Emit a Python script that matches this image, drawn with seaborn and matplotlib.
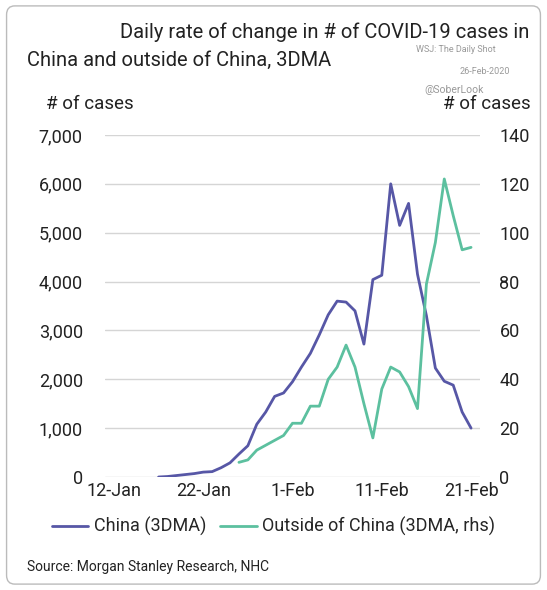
import numpy as np, pandas as pd
import matplotlib
matplotlib.use("Agg")
import matplotlib.pyplot as plt
import matplotlib.dates as mdates
import seaborn as sns
from matplotlib.patches import FancyBboxPatch

china_dates = pd.date_range("2020-01-17", "2020-02-21")
china = [0, 10, 30, 50, 70, 100, 110, 190, 290, 470, 640, 1080, 1330, 1650, 1720,
         1950, 2250, 2530, 2910, 3320, 3600, 3580, 3400, 2720, 4040, 4130, 6000,
         5150, 5600, 4150, 3300, 2230, 1960, 1880, 1330, 1000]
out_dates = pd.date_range("2020-01-26", "2020-02-21")
outside = [6, 7, 11, 13, 15, 17, 22, 22, 29, 29, 40, 45, 54, 45, 30, 16, 36, 45,
           43, 37, 28, 79, 96, 122, 107, 93, 94]
xticks = ["2020-01-12", "2020-01-22", "2020-02-01", "2020-02-11", "2020-02-21"]
xticklabels = ["12-Jan", "22-Jan", "1-Feb", "11-Feb", "21-Feb"]

sns.set_theme(style="white")
plt.rcParams['font.family'] = ['Roboto', 'DejaVu Sans']
c1, c2 = "#5757a6", "#5cc09f"

fig = plt.figure(figsize=(5.47, 5.90), dpi=100)
fig.patches.append(FancyBboxPatch((0.012, 0.01), 0.976, 0.98, boxstyle="round,pad=0,rounding_size=0.015",
                                  transform=fig.transFigure, fill=False, ec="#bbbbbb", lw=1))
ax = fig.add_axes([105/547, 1-477/590, (480-105)/547, (477-135)/590])
df1 = pd.DataFrame({"d": china_dates, "v": china})
df2 = pd.DataFrame({"d": out_dates, "v": outside})
sns.lineplot(data=df1, x="d", y="v", ax=ax, color=c1, lw=2)
ax2 = ax.twinx()
sns.lineplot(data=df2, x="d", y="v", ax=ax2, color=c2, lw=2)
ax.set_xlim(pd.Timestamp("2020-01-11"), pd.Timestamp("2020-02-22"))
ax.set_ylim(0, 7000); ax2.set_ylim(0, 140)
ax.set_yticks(range(0, 7001, 1000)); ax2.set_yticks(range(0, 141, 20))
ax.set_yticklabels([f"{v:,}" for v in range(0, 7001, 1000)])
ax.set_xticks(pd.to_datetime(xticks)); ax.set_xticklabels(xticklabels)
for a in (ax, ax2):
    a.set_xlabel(""); a.set_ylabel("")
    for s in a.spines.values(): s.set_visible(False)
    a.tick_params(labelsize=13, length=0, colors="#222222")
ax.grid(axis="y", color="#d5d5d5", lw=1)
ax.tick_params(axis="y", pad=16); ax2.tick_params(axis="y", pad=14)

fig.text(0.22, 0.935, "Daily rate of change in # of COVID-19 cases in", fontsize=14.5, color="#222222")
fig.text(0.05, 0.888, "China and outside of China, 3DMA", fontsize=14.5, color="#222222")
fig.text(0.76, 0.912, "WSJ: The Daily Shot", fontsize=6.5, color="#999999")
fig.text(0.84, 0.875, "26-Feb-2020", fontsize=6.5, color="#999999")
fig.text(0.775, 0.843, "@SoberLook", fontsize=7.5, color="#999999")
fig.text(0.085, 0.815, "# of cases", fontsize=13.5, color="#222222")
fig.text(0.81, 0.815, "# of cases", fontsize=13.5, color="#222222")
from matplotlib.lines import Line2D
h = [Line2D([], [], color=c1, lw=2), Line2D([], [], color=c2, lw=2)]
fig.legend(h, ["China (3DMA)", "Outside of China (3DMA, rhs)"], loc="center", bbox_to_anchor=(0.5, 0.107),
           ncol=2, frameon=False, fontsize=13, handlelength=2, columnspacing=0.8, handletextpad=0.3)
fig.text(0.05, 0.032, "Source: Morgan Stanley Research, NHC", fontsize=10, color="#222222")
fig.savefig("out.png", dpi=100)
